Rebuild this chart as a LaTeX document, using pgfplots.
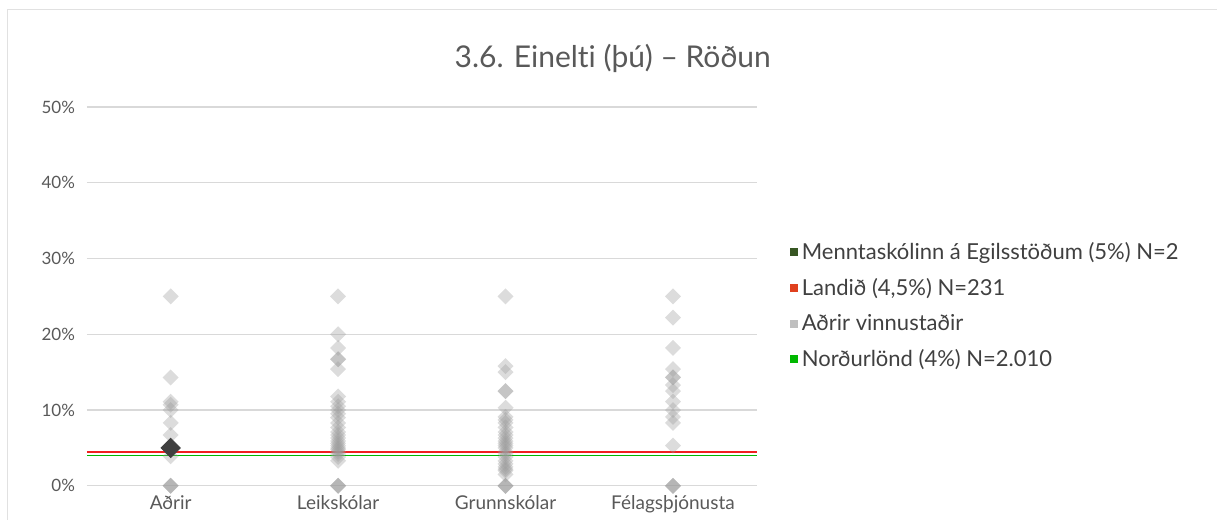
\documentclass[border=0pt]{standalone}
\usepackage{pgfplots}
\pgfplotsset{compat=1.18}
\usepackage{pgfplotstable}
\usepackage{fontspec}
\setmainfont{Lato}[Ligatures=NoCommon]

\definecolor{txt}{HTML}{595959}
\definecolor{legtxt}{HTML}{404040}
\definecolor{gridc}{HTML}{D9D9D9}
\definecolor{dots}{RGB}{155,155,155}
\definecolor{markc}{HTML}{404040}
\definecolor{legdark}{HTML}{375623}
\definecolor{legred}{HTML}{E0401E}
\definecolor{leggray}{HTML}{BFBFBF}
\definecolor{leggreen}{HTML}{00B800}
\definecolor{linered}{HTML}{F02020}
\definecolor{linegreen}{HTML}{00B800}

% other workplaces, x = category index, y = percent
\pgfplotstableread{
x y
0 25
0 14.3
0 11.1
0 10.7
0 10
0 8.3
0 6.7
0 3.9
0 0
0 0
0 0
1 25
1 20
1 18.2
1 16.7
1 16.7
1 15.4
1 11.8
1 11.1
1 10.5
1 10
1 9.5
1 9
1 8.3
1 7.7
1 7.1
1 6.7
1 6.3
1 5.9
1 5.6
1 5.3
1 5
1 4.8
1 4.5
1 4.2
1 3.8
1 3.3
1 0
1 0
1 0
2 25
2 15.8
2 15
2 12.5
2 12.5
2 10.3
2 9.1
2 8.7
2 8.3
2 7.7
2 7.1
2 6.7
2 6.3
2 5.9
2 5.6
2 5.3
2 5
2 4.5
2 4.2
2 3.8
2 3.3
2 2.9
2 2.5
2 2.2
2 2
2 1.5
2 0
2 0
2 0
3 25
3 22.2
3 18.2
3 15.4
3 14.3
3 14.3
3 13.3
3 12.5
3 11.1
3 10
3 9.1
3 8.3
3 5.3
3 0
3 0
3 0
}\others

\begin{document}
\begin{tikzpicture}
\begin{axis}[
    scale only axis,
    width=335pt, height=189.5pt,
    xmin=-0.5, xmax=3.5,
    ymin=0, ymax=50,
    xtick={0,1,2,3},
    xticklabels={Aðrir,Leikskólar,Grunnskólar,Félagsþjónusta},
    ytick={0,10,20,30,40,50},
    yticklabels={0\%,10\%,20\%,30\%,40\%,50\%},
    axis line style={draw=none},
    major tick length=0pt,
    ymajorgrids,
    grid style={gridc, line width=0.6pt},
    xticklabel style={font=\fontsize{9.5}{11}\selectfont, text=txt, yshift=-1.5pt},
    yticklabel style={font=\fontsize{8.5}{10}\selectfont, text=txt, xshift=-2.5pt},
    clip=false,
    legend cell align=left,
    legend image code/.code={\fill[#1, draw=none] (0pt,-2pt) rectangle (4pt,2pt);},
    legend style={draw=none, fill=none, at={(rel axis cs:1.04,0.665)}, anchor=north west,
        font=\fontsize{11}{13}\selectfont, text=legtxt, row sep=4pt},
]
\addlegendimage{fill=legdark}
\addlegendentry{Menntaskólinn á Egilsstöðum (5\%) N=2}
\addlegendimage{fill=legred}
\addlegendentry{Landið (4,5\%) N=231}
\addlegendimage{fill=leggray}
\addlegendentry{Aðrir vinnustaðir}
\addlegendimage{fill=leggreen}
\addlegendentry{Norðurlönd (4\%) N=2.010}

\addplot[forget plot, only marks, mark=square*, mark size=2.83pt,
    mark options={rotate=45, draw=dots, draw opacity=0, fill=dots, fill opacity=0.35}]
    table[x=x, y=y] {\others};

\addplot[forget plot, linered, line width=0.8pt] coordinates {(-0.5,4.5) (3.5,4.5)};
\addplot[forget plot, linegreen, line width=0.8pt] coordinates {(-0.5,4) (3.5,4)};

\addplot[forget plot, only marks, mark=square*, mark size=3.4pt,
    mark options={rotate=45, draw=markc, fill=markc}]
    coordinates {(0,5)};
\end{axis}
\draw[gridc!80, line width=0.5pt] (-39.5pt,-17pt) -- (-39.5pt,238pt) -- (565pt,238pt);
\node[font=\fontsize{15}{17}\selectfont, text=txt] at (263pt,214pt) {3.6. Einelti (þú) – Röðun};
\useasboundingbox (-43.5pt,-17pt) rectangle (565pt,243pt);
\end{tikzpicture}
\end{document}
